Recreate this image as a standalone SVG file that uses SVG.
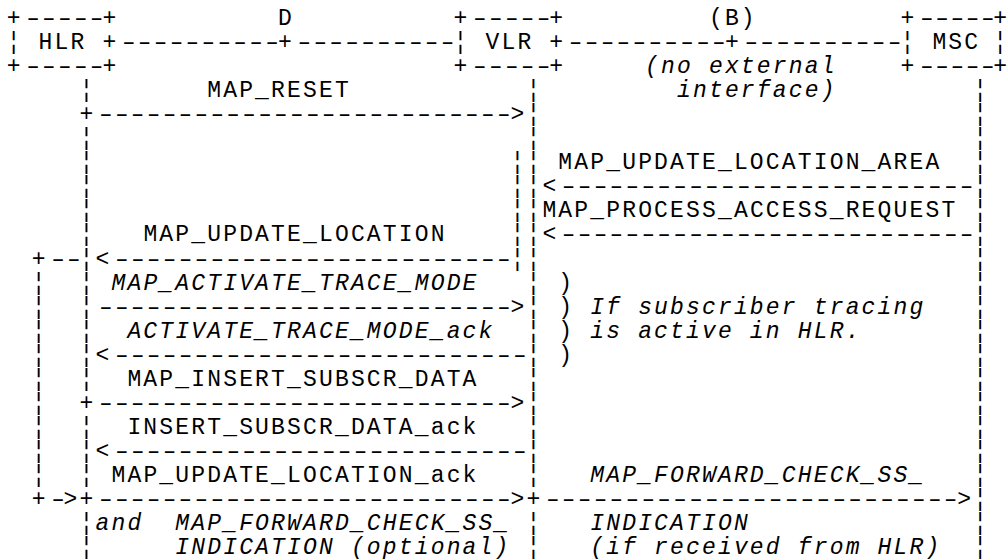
<svg xmlns="http://www.w3.org/2000/svg" width="1007" height="560" viewBox="0 0 1007 560">
<style>
text{font-family:"Liberation Mono","Courier New",monospace;font-size:23px;letter-spacing:2.16px;fill:#000}
.i{font-style:italic}
text.d{letter-spacing:-3.18px}
text.d.n{letter-spacing:-3.6px}
text.e{letter-spacing:0;text-anchor:end}
</style>
<rect width="1007" height="560" fill="#fff"/>
<g id="hlr">
<text x="6.7" y="25">+</text><text class="d" transform="translate(22.68,25) scale(1.5,1)">-----</text><text x="102.46" y="25">+</text>
<text x="6.7" y="49.05">¦ HLR</text><text x="102.46" y="49.05">+</text>
<text x="6.7" y="73.1">+</text><text class="d" transform="translate(22.68,73.1) scale(1.5,1)">-----</text><text x="102.46" y="73.1">+</text>
</g>
<g id="vlr">
<text x="453.58" y="25">+</text><text class="d" transform="translate(469.56,25) scale(1.5,1)">-----</text><text x="549.34" y="25">+</text>
<text x="453.58" y="49.05">¦ VLR</text><text x="549.34" y="49.05">+</text>
<text x="453.58" y="73.1">+</text><text class="d" transform="translate(469.56,73.1) scale(1.5,1)">-----</text><text x="549.34" y="73.1">+</text>
</g>
<g id="msc">
<text x="900.46" y="25">+</text><text class="d n" transform="translate(916.44,25) scale(1.5,1)">-----</text><text class="e" x="1007" y="25">+</text>
<text x="900.46" y="49.05">¦ MSC</text><text class="e" x="1007" y="49.05">¦</text>
<text x="900.46" y="73.1">+</text><text class="d n" transform="translate(916.44,73.1) scale(1.5,1)">-----</text><text class="e" x="1007" y="73.1">+</text>
</g>
<g id="connectors">
<text class="d" transform="translate(118.44,49.05) scale(1.5,1)">----------</text>
<text x="278.02" y="49.05">+</text>
<text class="d" transform="translate(294,49.05) scale(1.5,1)">----------</text>
<text class="d" transform="translate(565.32,49.05) scale(1.5,1)">----------</text>
<text x="724.9" y="49.05">+</text>
<text class="d" transform="translate(740.88,49.05) scale(1.5,1)">----------</text>
<text x="278.02" y="25">D</text>
<text x="708.94" y="25">(B)</text>
<text class="i" x="645.1" y="73.1">(no external</text>
<text class="i" x="677.02" y="97.15">interface)</text>
<text id="lifeline-hlr"><tspan x="79.54" y="97.15">¦</tspan><tspan x="79.54" y="145.25">¦</tspan><tspan x="79.54" y="169.3">¦</tspan><tspan x="79.54" y="193.35">¦</tspan><tspan x="79.54" y="217.4">¦</tspan><tspan x="79.54" y="241.45">¦</tspan><tspan x="79.54" y="265.5">¦</tspan><tspan x="79.54" y="289.55">¦</tspan><tspan x="79.54" y="313.6">¦</tspan><tspan x="79.54" y="337.65">¦</tspan><tspan x="79.54" y="361.7">¦</tspan><tspan x="79.54" y="385.75">¦</tspan><tspan x="79.54" y="433.85">¦</tspan><tspan x="79.54" y="457.9">¦</tspan><tspan x="79.54" y="481.95">¦</tspan><tspan x="79.54" y="530.05">¦</tspan><tspan x="79.54" y="554.1">¦</tspan></text>
<text id="lifeline-vlr"><tspan x="526.42" y="97.15">¦</tspan><tspan x="526.42" y="121.2">¦</tspan><tspan x="526.42" y="145.25">¦</tspan><tspan x="526.42" y="169.3">¦</tspan><tspan x="526.42" y="193.35">¦</tspan><tspan x="526.42" y="217.4">¦</tspan><tspan x="526.42" y="241.45">¦</tspan><tspan x="526.42" y="265.5">¦</tspan><tspan x="526.42" y="289.55">¦</tspan><tspan x="526.42" y="313.6">¦</tspan><tspan x="526.42" y="337.65">¦</tspan><tspan x="526.42" y="361.7">¦</tspan><tspan x="526.42" y="385.75">¦</tspan><tspan x="526.42" y="409.8">¦</tspan><tspan x="526.42" y="433.85">¦</tspan><tspan x="526.42" y="457.9">¦</tspan><tspan x="526.42" y="481.95">¦</tspan><tspan x="526.42" y="530.05">¦</tspan><tspan x="526.42" y="554.1">¦</tspan></text>
<text id="lifeline-vlr-inner"><tspan x="510.46" y="169.3">¦</tspan><tspan x="510.46" y="193.35">¦</tspan><tspan x="510.46" y="217.4">¦</tspan><tspan x="510.46" y="241.45">¦</tspan><tspan x="510.46" y="265.5">¦</tspan></text>
<text id="lifeline-msc"><tspan x="973.3" y="97.15">¦</tspan><tspan x="973.3" y="121.2">¦</tspan><tspan x="973.3" y="145.25">¦</tspan><tspan x="973.3" y="169.3">¦</tspan><tspan x="973.3" y="193.35">¦</tspan><tspan x="973.3" y="217.4">¦</tspan><tspan x="973.3" y="241.45">¦</tspan><tspan x="973.3" y="265.5">¦</tspan><tspan x="973.3" y="289.55">¦</tspan><tspan x="973.3" y="313.6">¦</tspan><tspan x="973.3" y="337.65">¦</tspan><tspan x="973.3" y="361.7">¦</tspan><tspan x="973.3" y="385.75">¦</tspan><tspan x="973.3" y="409.8">¦</tspan><tspan x="973.3" y="433.85">¦</tspan><tspan x="973.3" y="457.9">¦</tspan><tspan x="973.3" y="481.95">¦</tspan><tspan x="973.3" y="506">¦</tspan><tspan x="973.3" y="530.05">¦</tspan><tspan x="973.3" y="554.1">¦</tspan></text>
<text id="trace-loop"><tspan x="31.66" y="265.5">+</tspan><tspan x="31.66" y="289.55">¦</tspan><tspan x="31.66" y="313.6">¦</tspan><tspan x="31.66" y="337.65">¦</tspan><tspan x="31.66" y="361.7">¦</tspan><tspan x="31.66" y="385.75">¦</tspan><tspan x="31.66" y="409.8">¦</tspan><tspan x="31.66" y="433.85">¦</tspan><tspan x="31.66" y="457.9">¦</tspan><tspan x="31.66" y="481.95">¦</tspan><tspan x="31.66" y="506">+</tspan><tspan x="63.58" y="506">&gt;</tspan></text>
<text class="d" transform="translate(47.64,265.5) scale(1.5,1)">--</text>
<text class="d" transform="translate(47.64,506) scale(1.5,1)">-</text>
<text x="207.22" y="97.15">MAP_RESET</text>
<text x="79.54" y="121.2">+</text><text class="d" transform="translate(95.52,121.2) scale(1.5,1)">--------------------------</text><text x="510.46" y="121.2">&gt;</text>
<text x="558.34" y="169.3">MAP_UPDATE_LOCATION_AREA</text>
<text x="542.38" y="193.35">&lt;</text><text class="d" transform="translate(558.36,193.35) scale(1.5,1)">--------------------------</text>
<text x="542.38" y="217.4">MAP_PROCESS_ACCESS_REQUEST</text>
<text x="143.38" y="241.45">MAP_UPDATE_LOCATION</text>
<text x="542.38" y="241.45">&lt;</text><text class="d" transform="translate(558.36,241.45) scale(1.5,1)">--------------------------</text>
<text x="95.5" y="265.5">&lt;</text><text class="d" transform="translate(111.48,265.5) scale(1.5,1)">-------------------------</text>
<text class="i" x="111.46" y="289.55">MAP_ACTIVATE_TRACE_MODE</text>
<text class="d" transform="translate(95.52,313.6) scale(1.5,1)">--------------------------</text><text x="510.46" y="313.6">&gt;</text>
<text class="i" x="127.42" y="337.65">ACTIVATE_TRACE_MODE_ack</text>
<text x="95.5" y="361.7">&lt;</text><text class="d" transform="translate(111.48,361.7) scale(1.5,1)">--------------------------</text>
<text x="558.34" y="289.55">)</text>
<text x="558.34" y="313.6">)</text>
<text x="558.34" y="337.65">)</text>
<text x="558.34" y="361.7">)</text>
<text class="i" x="590.26" y="313.6">If subscriber tracing</text>
<text class="i" x="590.26" y="337.65">is active in HLR.</text>
<text x="127.42" y="385.75">MAP_INSERT_SUBSCR_DATA</text>
<text x="79.54" y="409.8">+</text><text class="d" transform="translate(95.52,409.8) scale(1.5,1)">--------------------------</text><text x="510.46" y="409.8">&gt;</text>
<text x="127.42" y="433.85">INSERT_SUBSCR_DATA_ack</text>
<text x="95.5" y="457.9">&lt;</text><text class="d" transform="translate(111.48,457.9) scale(1.5,1)">--------------------------</text>
<text x="111.46" y="481.95">MAP_UPDATE_LOCATION_ack</text>
<text class="i" x="590.26" y="481.95">MAP_FORWARD_CHECK_SS_</text>
<text x="79.54" y="506">+</text><text class="d" transform="translate(95.52,506) scale(1.5,1)">--------------------------</text><text x="510.46" y="506">&gt;</text>
<text x="526.42" y="506">+</text><text class="d" transform="translate(542.4,506) scale(1.5,1)">--------------------------</text><text x="957.34" y="506">&gt;</text>
<text class="i" x="95.5" y="530.05">and</text>
<text class="i" x="175.3" y="530.05">MAP_FORWARD_CHECK_SS_</text>
<text class="i" x="175.3" y="554.1">INDICATION (optional)</text>
<text class="i" x="590.26" y="530.05">INDICATION</text>
<text class="i" x="590.26" y="554.1">(if received from HLR)</text>
</g>
</svg>
